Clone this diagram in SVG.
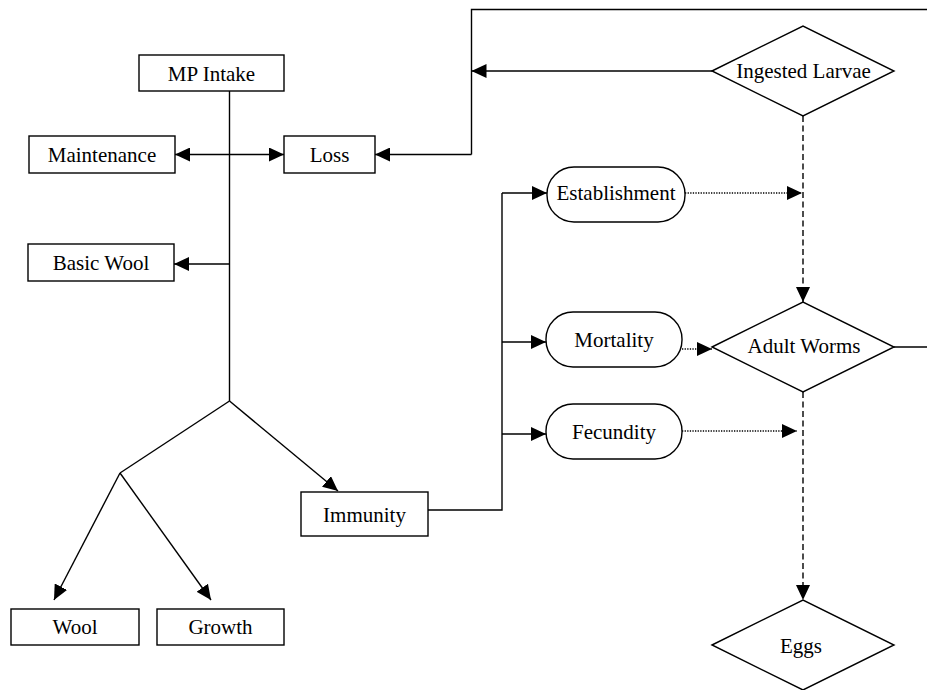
<svg xmlns="http://www.w3.org/2000/svg" width="927" height="690" viewBox="0 0 927 690">
<defs>
<marker id="ah" viewBox="0 0 15 14" refX="15" refY="7" markerWidth="15" markerHeight="14" markerUnits="userSpaceOnUse" orient="auto">
<path d="M0,0 L15,7 L0,14 Z" fill="#000"/>
</marker>
</defs>
<style>
.n{fill:#fff;stroke:#000;stroke-width:1.4}
.t{font-family:"Liberation Serif","Times New Roman",serif;font-size:21px;fill:#000;text-anchor:middle}
.c{fill:none;stroke:#000;stroke-width:1.4}
.a{marker-end:url(#ah)}
.dash{stroke-dasharray:6 3.5}
.dot{stroke-dasharray:1.3 1.3;stroke-width:1.4}
</style>
<rect width="927" height="690" fill="#fff"/>
<g id="connectors">
<path class="c" d="M229.5,91 V401"/>
<path class="c a" d="M229.5,154.5 H175"/>
<path class="c a" d="M229.5,154.5 H284"/>
<path class="c a" d="M229.5,264 H174"/>
<path class="c" d="M229.5,401 L120,473"/>
<path class="c a" d="M120,473 L54,600"/>
<path class="c a" d="M120,473 L211,600"/>
<path class="c a" d="M229.5,401 L338,491"/>
<path class="c" d="M927,9.5 H471.5 V154.5"/>
<path class="c a" d="M471.5,154.5 H375"/>
<path class="c a" d="M712,71 H471.5"/>
<path class="c" d="M428,510 H502 V193"/>
<path class="c a" d="M502,193 H547"/>
<path class="c a" d="M502,342 H546"/>
<path class="c a" d="M502,434 H546"/>
<path class="c dot a" d="M685,193 H802"/>
<path class="c dot a" d="M682,349 H712"/>
<path class="c dot a" d="M682,431 H797"/>
<path class="c dash a" d="M803,116 V302"/>
<path class="c dash a" d="M803,392 V600"/>
<path class="c" d="M894,347 H927"/>
</g>
<g id="mp-intake"><rect class="n" x="139" y="55" width="145" height="36"/><text class="t" x="211.5" y="81">MP Intake</text></g>
<g id="maintenance"><rect class="n" x="29" y="136" width="146" height="37"/><text class="t" x="102" y="162">Maintenance</text></g>
<g id="loss"><rect class="n" x="284" y="136" width="91" height="37"/><text class="t" x="329.5" y="162">Loss</text></g>
<g id="basic-wool"><rect class="n" x="28" y="244" width="146" height="37"/><text class="t" x="101" y="270">Basic Wool</text></g>
<g id="immunity"><rect class="n" x="301" y="492" width="127" height="44"/><text class="t" x="364.5" y="522">Immunity</text></g>
<g id="wool"><rect class="n" x="11" y="609" width="128" height="36"/><text class="t" x="75" y="634">Wool</text></g>
<g id="growth"><rect class="n" x="157" y="609" width="127" height="36"/><text class="t" x="220.5" y="634">Growth</text></g>
<g id="ingested-larvae"><polygon class="n" points="712,71 803,26 894,71 803,116"/><text class="t" x="803.5" y="78">Ingested Larvae</text></g>
<g id="establishment"><rect class="n" x="547" y="167" width="138" height="55" rx="27" ry="27"/><text class="t" x="616" y="200">Establishment</text></g>
<g id="mortality"><rect class="n" x="546" y="312" width="136" height="55" rx="27" ry="27"/><text class="t" x="614" y="347">Mortality</text></g>
<g id="fecundity"><rect class="n" x="546" y="404" width="136" height="55" rx="27" ry="27"/><text class="t" x="614" y="439">Fecundity</text></g>
<g id="adult-worms"><polygon class="n" points="712,347 803,302 894,347 803,392"/><text class="t" x="804" y="353">Adult Worms</text></g>
<g id="eggs"><polygon class="n" points="712,645 803,600 894,645 803,690"/><text class="t" x="801" y="653">Eggs</text></g>
</svg>
